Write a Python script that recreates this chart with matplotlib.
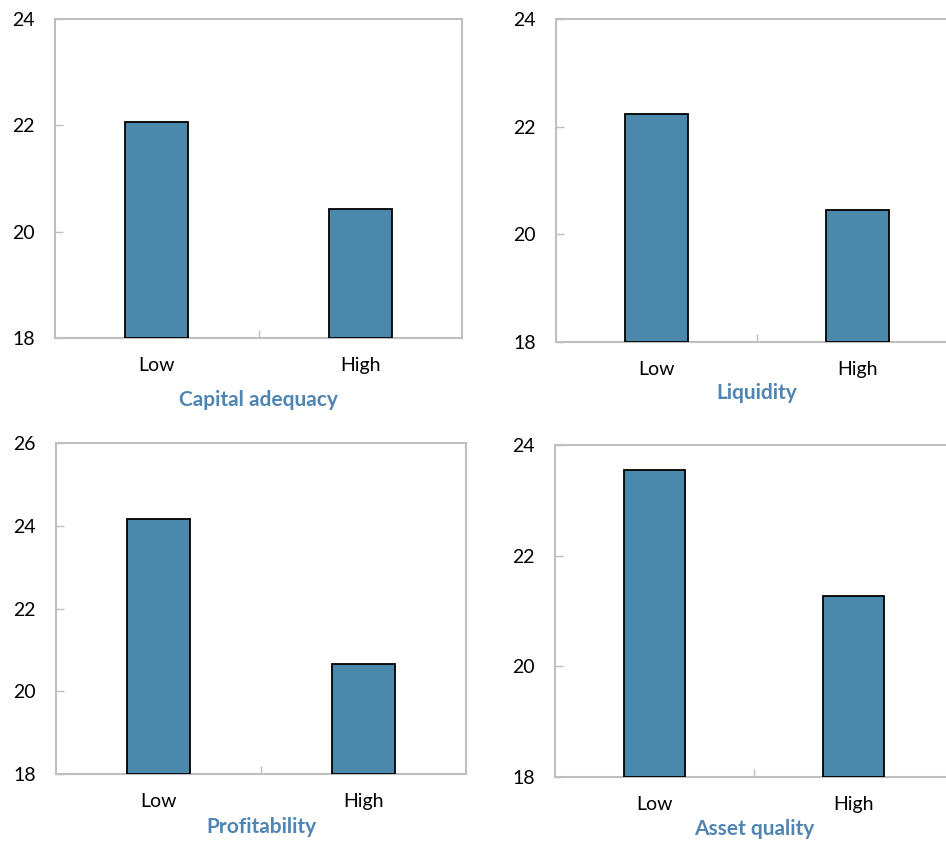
import numpy as np
import matplotlib.pyplot as plt

plt.rcParams['font.family'] = ['Lato', 'DejaVu Sans']

categories = ['Low', 'High']
titles = ['Capital adequacy', 'Liquidity', 'Profitability', 'Asset quality']
values = [
    [22.07, 20.43],   # capital adequacy
    [22.23, 20.45],   # liquidity
    [24.17, 20.65],   # profitability
    [23.55, 21.28],   # asset quality
]
ylims = [(18, 24), (18, 24), (18, 26), (18, 24)]
yticks = [[18, 20, 22, 24], [18, 20, 22, 24], [18, 20, 22, 24, 26], [18, 20, 22, 24]]

# axes boxes in pixels: left, right, top, bottom (image is 946x842)
boxes = [(55, 462, 19, 338), (556, 958, 19, 342), (56, 466, 443, 774), (555, 953, 445, 777)]
title_pads = [11, 3, 5, 4]

W, H = 946, 842
bar_col = '#4A89AC'
frame_col = '#BFBFBF'
title_col = '#4F84B3'

fig = plt.figure(figsize=(W / 100, H / 100), dpi=100)

for i in range(4):
    l, r, t, b = boxes[i]
    ax = fig.add_axes([l / W, (H - b) / H, (r - l) / W, (b - t) / H])
    x = np.arange(len(categories))
    ax.bar(x, np.array(values[i]) - ylims[i][0], bottom=ylims[i][0], width=0.31,
           color=bar_col, edgecolor='black', linewidth=1.3, zorder=3)
    ax.set_xlim(-0.5, 1.5)
    ax.set_ylim(*ylims[i])
    ax.set_yticks(yticks[i])
    ax.set_xticks(x)
    ax.set_xticklabels(categories)
    ax.tick_params(axis='x', length=0, pad=14, labelsize=14)
    ax.tick_params(axis='y', direction='in', length=6, color=frame_col, width=1,
                   pad=14.5, labelsize=14)
    # middle divider tick on the x axis
    ax.set_xticks([0.5], minor=True)
    ax.tick_params(axis='x', which='minor', direction='in', length=6,
                   color=frame_col, width=1)
    for s in ax.spines.values():
        s.set_color(frame_col)
        s.set_linewidth(1.5)
    ax.set_xlabel(titles[i], color=title_col, fontsize=15, fontweight='bold',
                  labelpad=title_pads[i])

fig.savefig('out.png', dpi=100)
